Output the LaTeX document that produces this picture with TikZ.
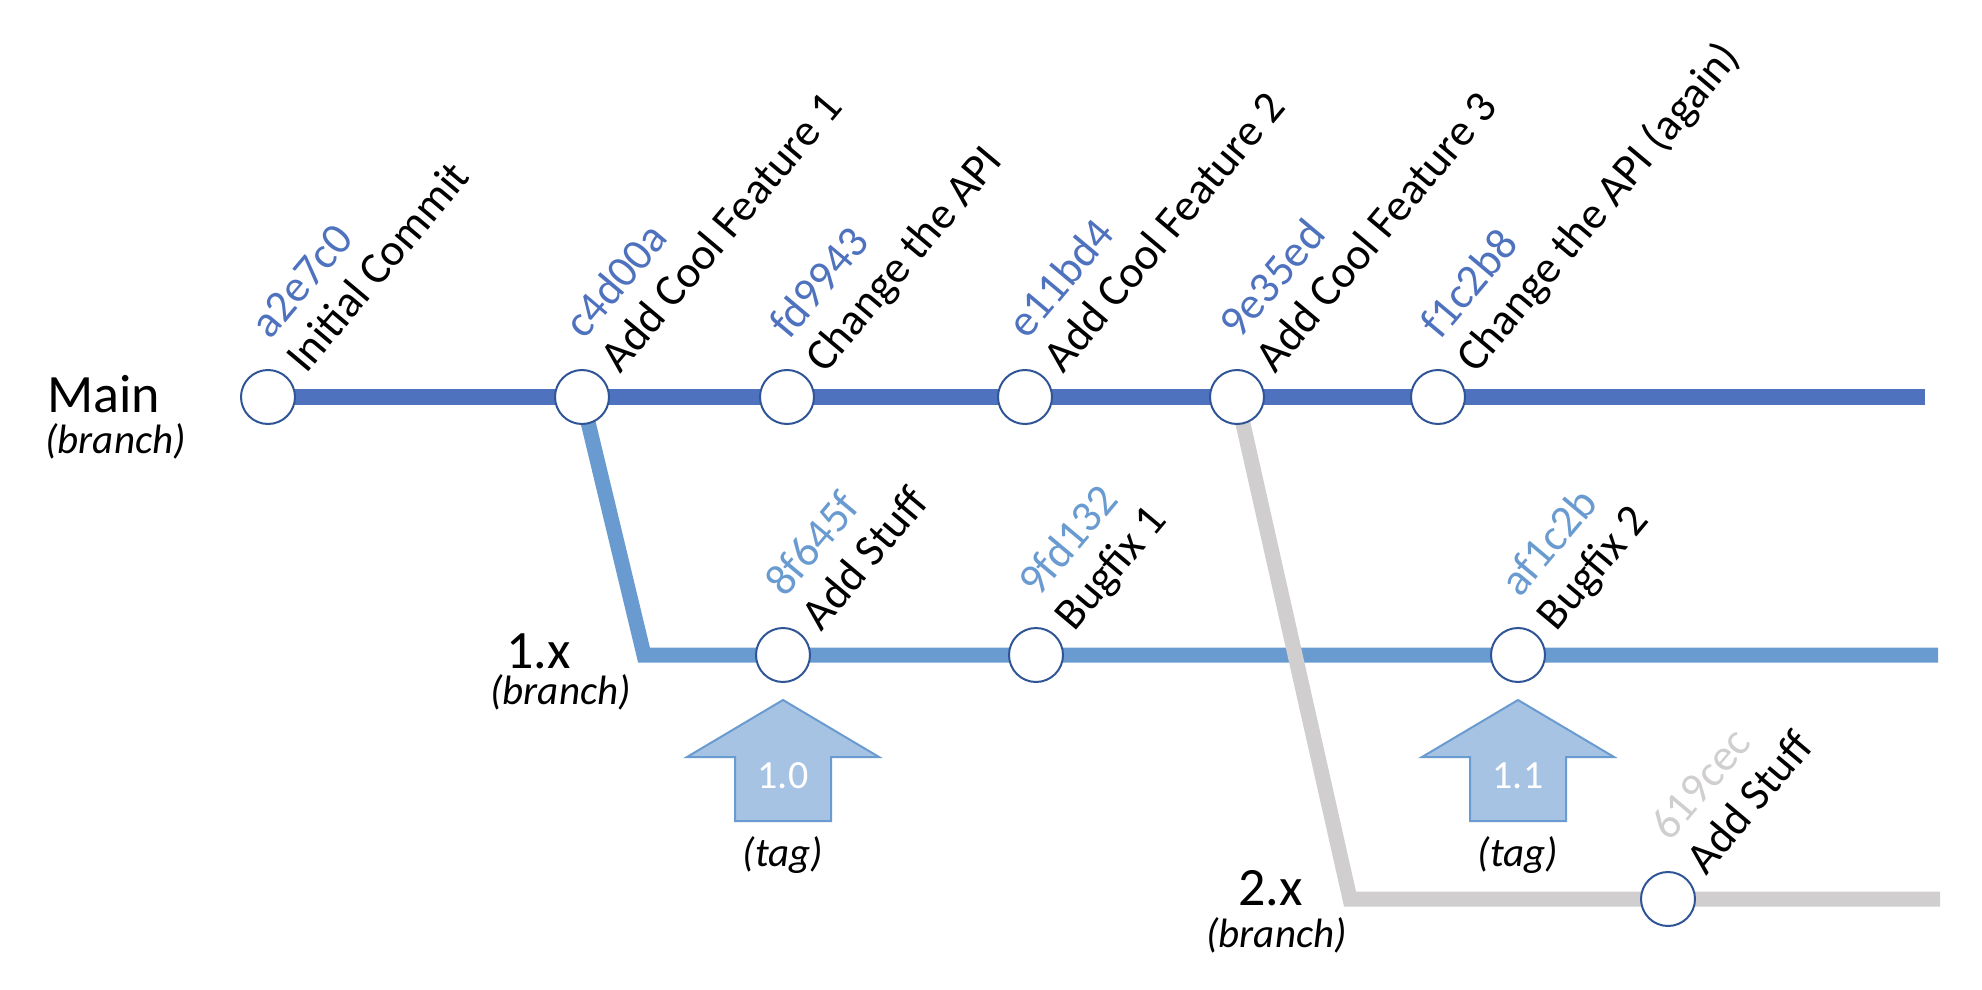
\documentclass[tikz,border=0pt]{standalone}
\usepackage{fontspec}
\setmainfont{Carlito}
\usetikzlibrary{backgrounds}

\definecolor{mainblue}{HTML}{4F72BE}
\definecolor{relblue}{HTML}{6A9BD0}
\definecolor{devgrey}{HTML}{D0CECE}
\definecolor{ringblue}{HTML}{2F5597}
\definecolor{tagfill}{HTML}{A6C3E4}

\tikzset{
	commit/.style={circle, draw=ringblue, fill=white, line width=1pt, minimum size=27pt, inner sep=0pt},
	hashlbl/.style={rotate=50, anchor=base west, inner sep=0pt, font=\fontsize{22.5}{26}\selectfont},
	msglbl/.style={hashlbl, text=black},
	brname/.style={anchor=base west, inner sep=0pt, font=\fontsize{27}{32}\selectfont},
	brnote/.style={anchor=base west, inner sep=0pt, font=\fontsize{20.5}{24}\selectfont\itshape},
	tagarrow/.style={fill=tagfill, draw=relblue, line width=1pt, line join=miter},
	tagtext/.style={text=white, inner sep=0pt, font=\fontsize{20}{24}\selectfont},
	tagnote/.style={anchor=base, inner sep=0pt, font=\fontsize{20.5}{24}\selectfont\itshape}
}

\begin{document}
\begin{tikzpicture}[x=0.5pt, y=-0.5pt]
			\useasboundingbox (0,0) rectangle (1982,990);
			
			% branch names
			\node[brname] (nmain) at (47,412) {Main};
			\node[brnote] (bmain) at (45,453) {(branch)};
			\node[brname] (none) at (506,668) {1.x};
			\node[brnote] (bone) at (490,704) {(branch)};
			\node[brname] (ntwo) at (1238,905) {2.x};
			\node[brnote] (btwo) at (1206,947) {(branch)};
			
			% main commits
			\foreach \h/\x/\m in {a2e7c0/268/Initial Commit, c4d00a/582/Add Cool Feature 1,
				fd9943/787/Change the API, e11bd4/1025/Add Cool Feature 2,
				9e35ed/1237/Add Cool Feature 3, f1c2b8/1438/{Change the API (again)}}{
				\node[commit] (\h) at (\x,397) {};
				\node[hashlbl, text=mainblue] (h\h) at ([shift={(2,-56)}]\x,397) {\h};
				\node[msglbl] (m\h) at ([shift={(38,-22)}]\x,397) {\m};
			}
			
			% 1.x commits
			\foreach \h/\x/\m in {8f645f/783/Add Stuff, 9fd132/1036/Bugfix 1, af1c2b/1518/Bugfix 2}{
				\node[commit] (\h) at (\x,655) {};
				\node[hashlbl, text=relblue] (h\h) at ([shift={(2,-56)}]\x,655) {\h};
				\node[msglbl] (m\h) at ([shift={(38,-22)}]\x,655) {\m};
			}
			
			% 2.x commits
			\node[commit] (619cec) at (1668,899) {};
			\node[hashlbl, text=devgrey] (h619cec) at ([shift={(2,-56)}]1668,899) {619cec};
			\node[msglbl] (m619cec) at ([shift={(38,-22)}]1668,899) {Add Stuff};
			
			% branch lines
			\coordinate (mainend) at (1925,397);
			\coordinate (onecorner) at (644,655);
			\coordinate (oneend) at (1938,655);
			\coordinate (twocorner) at (1350,899);
			\coordinate (twoend) at (1940,899);
			\begin{pgfonlayer}{background}
				\draw[mainblue, line width=8pt] (a2e7c0.center) -- (mainend);
				\draw[relblue, line width=7.5pt] (c4d00a.center) -- (onecorner) -- (oneend);
				\draw[devgrey, line width=7.5pt] (9e35ed.center) -- (twocorner) -- (twoend);
			\end{pgfonlayer}
			
			% tags
			\foreach \c/\t in {8f645f/1.0, af1c2b/1.1}{
				\path (\c) ++(0,45) coordinate (tip\c);
				\draw[tagarrow] (tip\c) -- ++(96,57) -- ++(-48,0) -- ++(0,64) -- ++(-96,0)
					-- ++(0,-64) -- ++(-48,0) -- cycle;
				\node[tagtext] (v\c) at ([shift={(0,76)}]tip\c) {\t};
				\node[tagnote] (n\c) at ([shift={(0,166)}]tip\c) {(tag)};
			}
			
\end{tikzpicture}
\end{document}
